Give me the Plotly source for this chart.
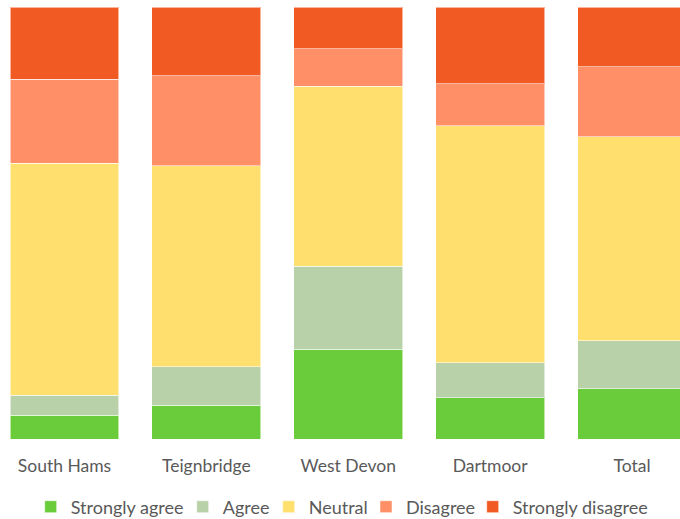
import plotly.graph_objects as go

categories = ["South Hams", "Teignbridge", "West Devon", "Dartmoor", "Total"]
series_names = ["Strongly agree", "Agree", "Neutral", "Disagree", "Strongly disagree"]
strongly_agree = [5.5, 7.8, 20.8, 9.5, 11.6]
agree = [4.6, 8.9, 19.2, 8.2, 11.1]
neutral = [53.7, 46.6, 41.6, 54.8, 47.3]
disagree = [19.5, 20.8, 8.7, 9.7, 16.2]
strongly_disagree = [16.7, 15.9, 9.7, 17.8, 13.8]
colors = ["#6ACC3A", "#B9D1A8", "#FFE06E", "#FF8F66", "#F15A22"]
# left pixel position of each legend entry's text
legend_text_x = [70.7, 222.7, 308.7, 406.0, 512.7]

values = [strongly_agree, agree, neutral, disagree, strongly_disagree]

W, H = 680, 519
fig = go.Figure()
legend_layout = {}
for i, (name, vals, col) in enumerate(zip(series_names, values, colors)):
    key = "legend" if i == 0 else f"legend{i + 1}"
    fig.add_trace(go.Bar(
        x=list(range(len(categories))), y=vals, name=name, legend=key,
        marker=dict(color=col, line=dict(color="rgba(255,255,255,0.55)", width=1)),
    ))
    legend_layout[key] = dict(
        orientation="h", xanchor="left", x=(legend_text_x[i] - 40) / W,
        yanchor="middle", y=-0.1574, font=dict(size=18, color="#595959"),
        itemwidth=30, bgcolor="rgba(0,0,0,0)", borderwidth=0,
    )

fig.update_layout(
    barmode="stack", barnorm="percent", bargap=0.232,
    width=W, height=H,
    margin=dict(l=0, r=0, t=7, b=80, autoexpand=False),
    paper_bgcolor="white", plot_bgcolor="white",
    font=dict(family="Lato, 'Open Sans', sans-serif", size=17.5, color="#595959"),
    showlegend=True,
    xaxis=dict(tickmode="array", tickvals=list(range(len(categories))), ticktext=categories,
               range=[-0.4545, 4.338], showgrid=False, zeroline=False, showline=False,
               ticks="", ticklabelstandoff=14, tickfont=dict(size=17.5, color="#595959")),
    yaxis=dict(range=[0, 100], showgrid=False, zeroline=False, showline=False,
               showticklabels=False, ticks=""),
    **legend_layout,
)

fig.write_html("out.html")
